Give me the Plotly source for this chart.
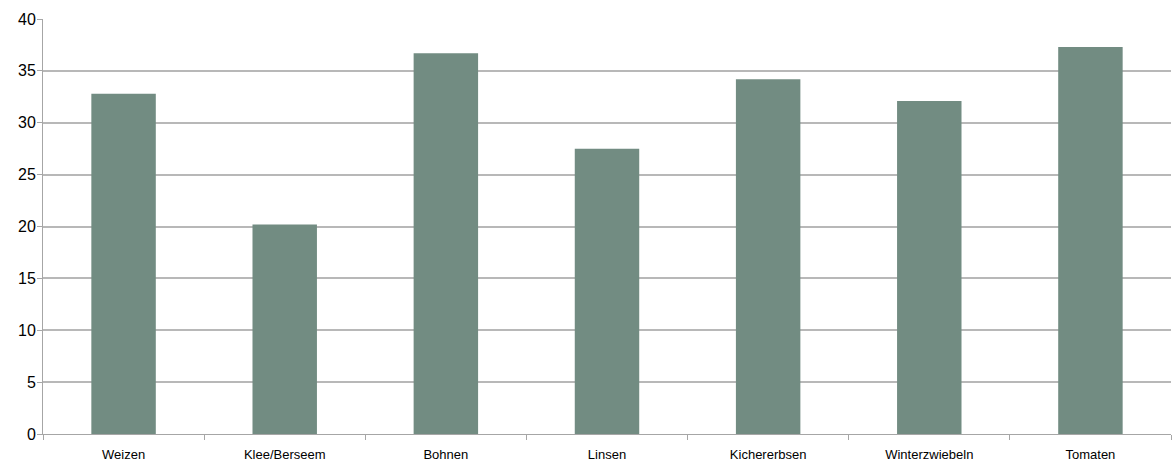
import plotly.graph_objects as go

categories = ["Weizen", "Klee/Berseem", "Bohnen", "Linsen", "Kichererbsen", "Winterzwiebeln", "Tomaten"]
values = [32.8, 20.2, 36.7, 27.5, 34.2, 32.1, 37.3]
y_ticks = [0, 5, 10, 15, 20, 25, 30, 35, 40]

fig = go.Figure(
    go.Bar(x=categories, y=values, marker=dict(color="#728c82", line=dict(width=0)))
)

fig.update_layout(
    width=1173,
    height=463,
    margin=dict(l=43, r=2, t=19, b=29),
    paper_bgcolor="white",
    plot_bgcolor="white",
    bargap=0.6,
    showlegend=False,
    font=dict(family="Liberation Sans, Arial, sans-serif", color="black"),
)

fig.update_xaxes(
    showline=True,
    linecolor="#a6a6a6",
    linewidth=1,
    ticks="outside",
    tickson="boundaries",
    ticklen=5,
    tickcolor="#a6a6a6",
    tickfont=dict(size=13),
    ticklabelstandoff=8,
    automargin=False,
    showgrid=False,
)

fig.update_yaxes(
    range=[0, 40],
    tickvals=y_ticks,
    showline=True,
    linecolor="#a6a6a6",
    linewidth=1,
    ticks="outside",
    ticklen=5,
    tickcolor="#a6a6a6",
    tickfont=dict(size=16),
    ticklabelstandoff=-2,
    automargin=False,
    showgrid=True,
    gridcolor="#b8b8b8",
    gridwidth=1.5,
    zeroline=False,
)

fig.write_html("out.html")
